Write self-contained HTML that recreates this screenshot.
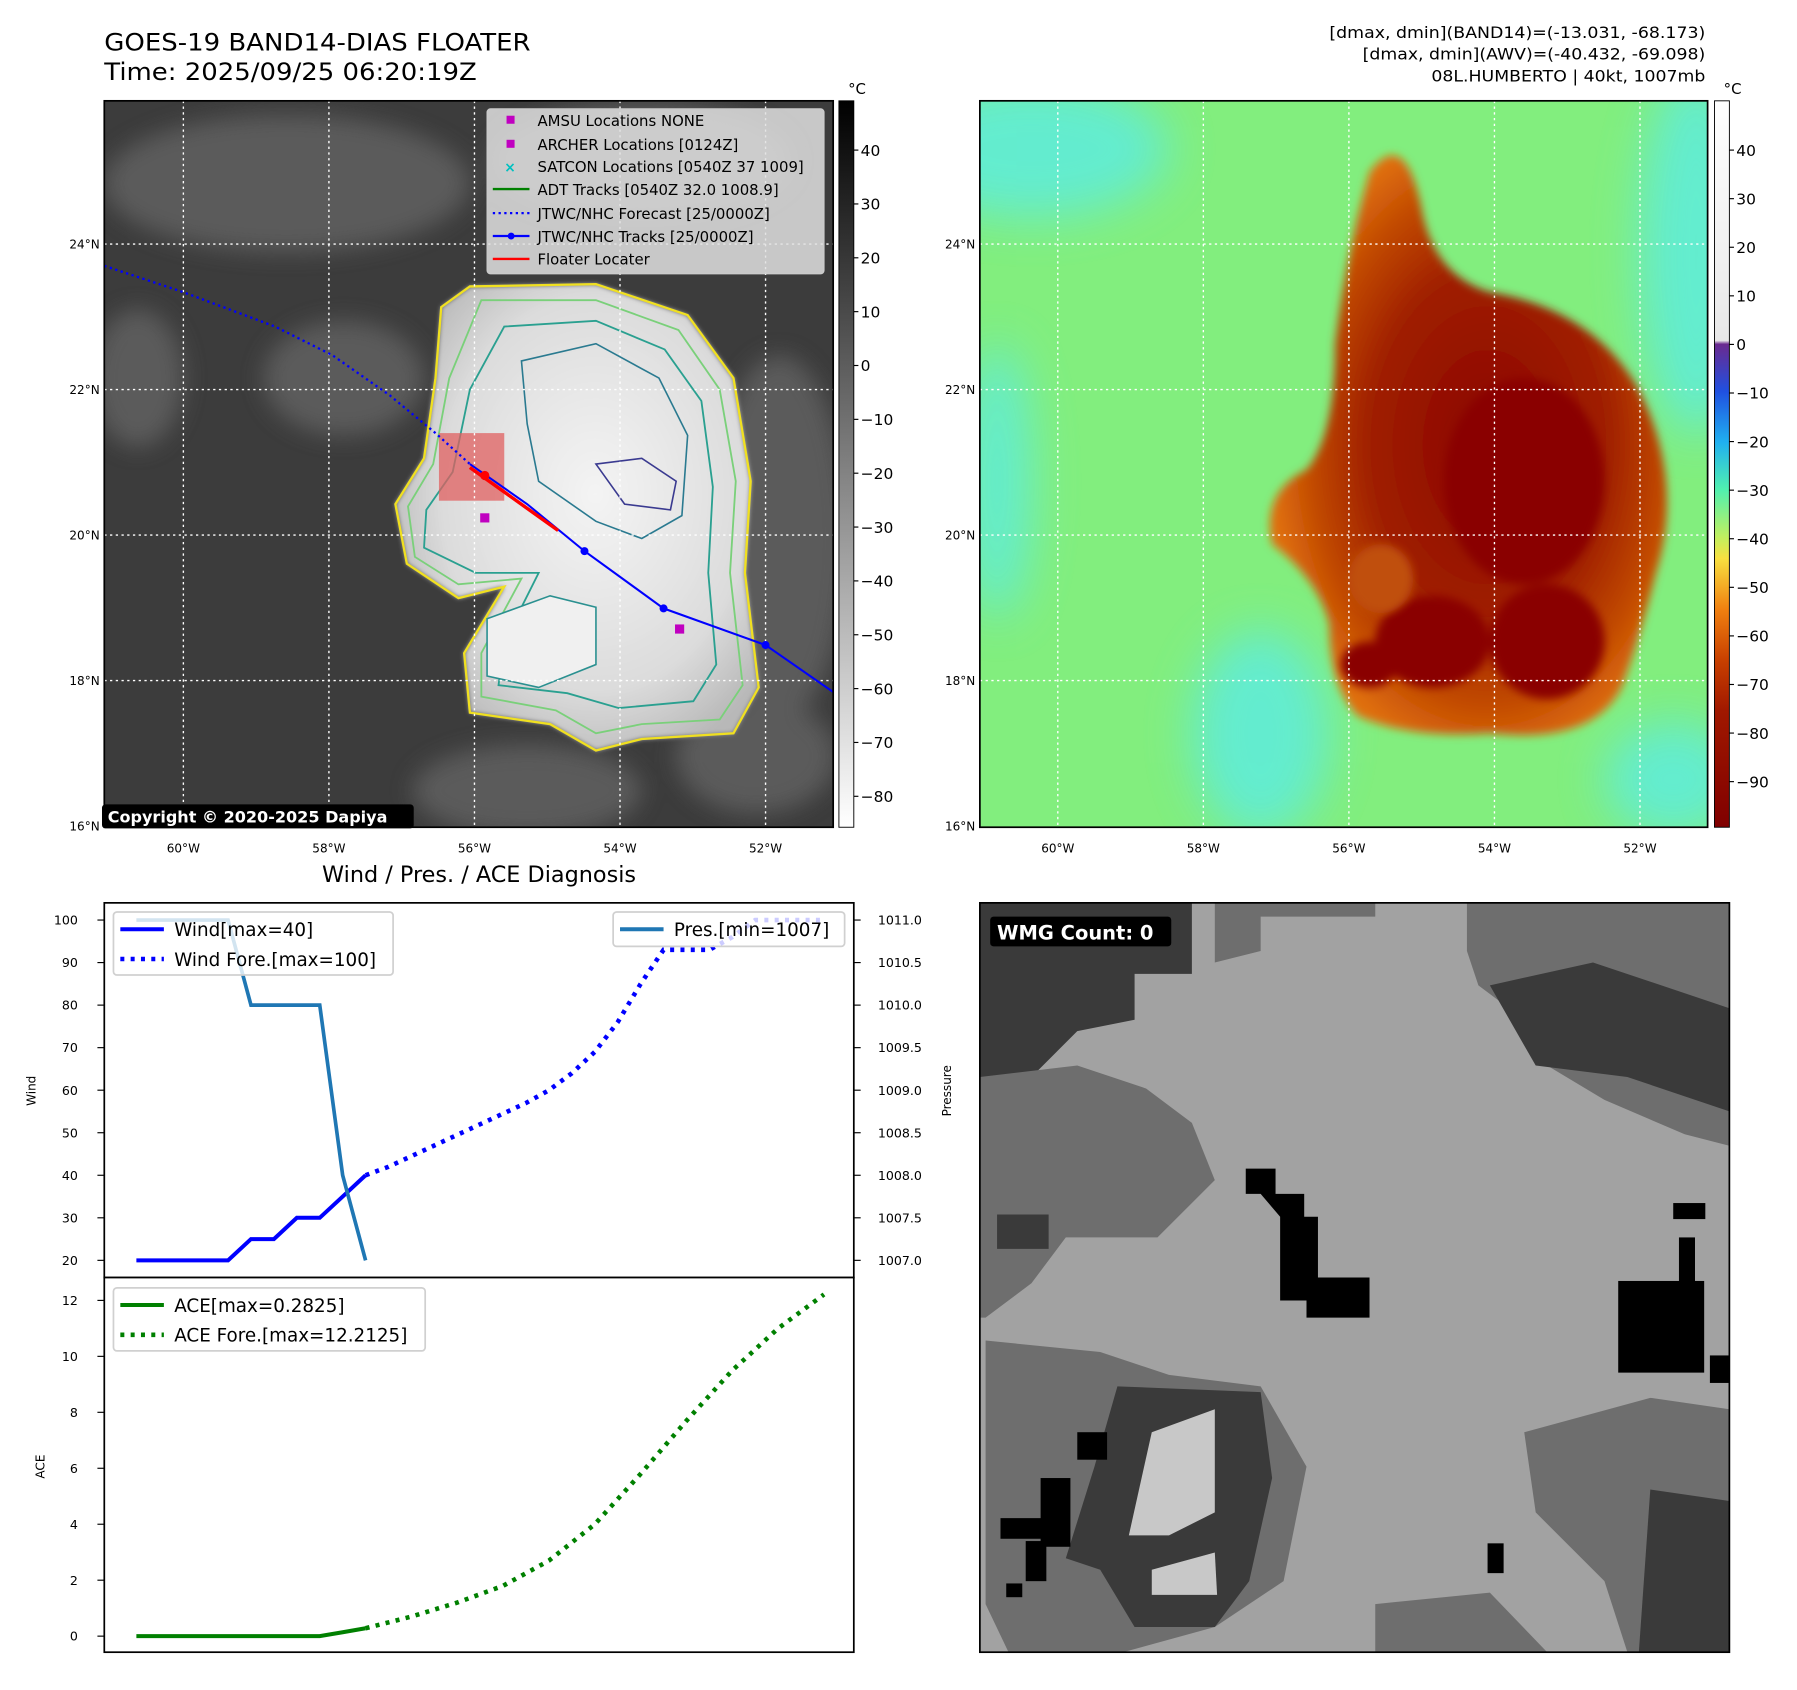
<!DOCTYPE html>
<html><head><meta charset="utf-8"><style>
html,body{margin:0;padding:0;background:#fff}
svg{display:block}
text{font-family:"DejaVu Sans","Liberation Sans",sans-serif}
</style></head><body>
<svg id="root" xmlns="http://www.w3.org/2000/svg" width="1797" height="1690" viewBox="0 0 1568 1475" preserveAspectRatio="none">
<defs>
<linearGradient id="cbL" x1="0" y1="0" x2="0" y2="1"><stop offset="0" stop-color="#000"/><stop offset="1" stop-color="#fff"/></linearGradient>
<linearGradient id="cbR" x1="0" y1="0" x2="0" y2="1">
<stop offset="0" stop-color="#ffffff"/><stop offset="0.33" stop-color="#e8e8e8"/>
<stop offset="0.335" stop-color="#6a2a90"/><stop offset="0.40" stop-color="#2050e0"/>
<stop offset="0.47" stop-color="#20b0f0"/><stop offset="0.535" stop-color="#50f0b0"/>
<stop offset="0.60" stop-color="#c0f060"/><stop offset="0.63" stop-color="#f8e040"/>
<stop offset="0.70" stop-color="#f08010"/><stop offset="0.77" stop-color="#c84000"/>
<stop offset="0.84" stop-color="#a01800"/><stop offset="1" stop-color="#800000"/></linearGradient>
<radialGradient id="stormL" cx="0.55" cy="0.45" r="0.6"><stop offset="0" stop-color="#f4f4f4"/><stop offset="0.7" stop-color="#dcdcdc"/><stop offset="1" stop-color="#b8b8b8"/></radialGradient>
<radialGradient id="stormR" cx="0.55" cy="0.5" r="0.55"><stop offset="0" stop-color="#8a0000"/><stop offset="0.55" stop-color="#a02000"/><stop offset="0.8" stop-color="#c04800"/><stop offset="1" stop-color="#e07010"/></radialGradient>
<filter id="blur2"><feGaussianBlur stdDeviation="2"/></filter>
<filter id="blur4"><feGaussianBlur stdDeviation="4"/></filter>
<filter id="blur10"><feGaussianBlur stdDeviation="10"/></filter>
<filter id="blur20"><feGaussianBlur stdDeviation="20"/></filter>
<clipPath id="clipL"><rect x="91" y="88" width="636" height="634"/></clipPath>
<clipPath id="clipR"><rect x="855" y="88" width="635" height="634"/></clipPath>
<clipPath id="clipB"><rect x="855" y="788" width="654" height="654"/></clipPath>
</defs>

<text x="91" y="44" font-size="21" textLength="372" lengthAdjust="spacingAndGlyphs">GOES-19 BAND14-DIAS FLOATER</text>
<text x="91" y="70" font-size="21" textLength="325" lengthAdjust="spacingAndGlyphs">Time: 2025/09/25 06:20:19Z</text>
<g font-size="14" text-anchor="end">
<text x="1488" y="33" textLength="328" lengthAdjust="spacingAndGlyphs">[dmax, dmin](BAND14)=(-13.031, -68.173)</text>
<text x="1488" y="52" textLength="299" lengthAdjust="spacingAndGlyphs">[dmax, dmin](AWV)=(-40.432, -69.098)</text>
<text x="1488" y="71" textLength="239" lengthAdjust="spacingAndGlyphs">08L.HUMBERTO | 40kt, 1007mb</text>
</g>

<!-- LEFT MAP -->
<g clip-path="url(#clipL)">
<rect x="91" y="88" width="636" height="634" fill="#3c3c3c"/>
<g filter="url(#blur10)" fill="#5e5e5e" opacity="0.9">
<ellipse cx="250" cy="160" rx="160" ry="60"/><ellipse cx="560" cy="140" rx="130" ry="50"/>
<ellipse cx="300" cy="330" rx="70" ry="50"/><ellipse cx="680" cy="470" rx="60" ry="160"/>
<ellipse cx="460" cy="690" rx="100" ry="40"/><ellipse cx="120" cy="330" rx="40" ry="60"/>
<ellipse cx="660" cy="660" rx="70" ry="50"/>
</g>
<path d="M410,250 L520,248 L600,275 L640,330 L655,420 L650,500 L662,600 L640,640 L560,645 L520,655 L480,632 L410,622 L405,570 L440,512 L400,522 L355,492 L345,440 L370,400 L380,330 L385,268 Z" fill="url(#stormL)" filter="url(#blur2)"/>
<path d="M410,250 L520,248 L600,275 L640,330 L655,420 L650,500 L662,600 L640,640 L560,645 L520,655 L480,632 L410,622 L405,570 L440,512 L400,522 L355,492 L345,440 L370,400 L380,330 L385,268 Z" fill="none" stroke="#f0e020" stroke-width="2"/>
<path d="M420,262 L520,262 L592,288 L628,340 L642,420 L637,500 L648,598 L628,628 L560,632 L520,640 L485,620 L420,608 L420,570 L455,505 L400,510 L362,486 L356,442 L378,405 L392,330 Z" fill="none" stroke="#7ad07a" stroke-width="1.6"/>
<path d="M440,285 L520,280 L580,305 L612,350 L622,425 L618,500 L625,580 L605,612 L540,618 L495,605 L435,598 L440,560 L470,500 L415,500 L370,478 L372,445 L395,412 L410,340 Z" fill="none" stroke="#2aa090" stroke-width="1.6"/>
<path d="M455,315 L520,300 L575,330 L600,380 L595,450 L560,470 L520,455 L470,420 L460,370 Z" fill="none" stroke="#2a7a90" stroke-width="1.4"/>
<path d="M520,405 L560,400 L590,420 L585,445 L545,440 Z" fill="none" stroke="#3a3a90" stroke-width="1.4"/>
<path d="M425,540 L480,520 L520,530 L520,580 L470,600 L425,590 Z" fill="#f0f0f0" stroke="#2a9090" stroke-width="1.4"/>
<rect x="383" y="378" width="57" height="59" fill="#e06060" opacity="0.75"/>
</g>
<g stroke="#fff" stroke-width="1.2" stroke-dasharray="2 3">
<line x1="160" y1="88" x2="160" y2="722"/><line x1="287" y1="88" x2="287" y2="722"/><line x1="414" y1="88" x2="414" y2="722"/><line x1="541" y1="88" x2="541" y2="722"/><line x1="668" y1="88" x2="668" y2="722"/>
<line x1="91" y1="213" x2="727" y2="213"/><line x1="91" y1="340" x2="727" y2="340"/><line x1="91" y1="467" x2="727" y2="467"/><line x1="91" y1="594" x2="727" y2="594"/>
</g>
<g clip-path="url(#clipL)">
<polyline points="91,232 160,255 240,285 290,310 340,345 380,378 410,405" fill="none" stroke="#0000ff" stroke-width="2" stroke-dasharray="2 3"/>
<polyline points="410,405 460,440 510,481 579,531 668,563 727,604" fill="none" stroke="#0000ff" stroke-width="1.8"/>
<g fill="#0000ff"><circle cx="510" cy="481" r="3.5"/><circle cx="579" cy="531" r="3.5"/><circle cx="668" cy="563" r="3.5"/></g>
<line x1="410" y1="408" x2="487" y2="463" stroke="#ff0000" stroke-width="3"/>
<circle cx="423" cy="415" r="4" fill="#ff0000"/>
<rect x="419" y="448" width="8" height="8" fill="#c000c0"/><rect x="589" y="545" width="8" height="8" fill="#c000c0"/>
</g>
<rect x="91" y="88" width="636" height="634" fill="none" stroke="#000" stroke-width="1.5"/>
<g>
<rect x="425" y="95" width="294" height="144" rx="3" fill="#e0e0e0" fill-opacity="0.85" stroke="#ccc"/>
<g font-size="13">
<rect x="442" y="101" width="7" height="7" fill="#c000c0"/><text x="469" y="110">AMSU Locations NONE</text>
<rect x="442" y="122" width="7" height="7" fill="#c000c0"/><text x="469" y="131">ARCHER Locations [0124Z]</text>
<text x="440" y="150" fill="#00c0c0" font-size="12" font-weight="bold">×</text><text x="469" y="150">SATCON Locations [0540Z 37 1009]</text>
<line x1="430" y1="165" x2="462" y2="165" stroke="#008000" stroke-width="2"/><text x="469" y="170">ADT Tracks [0540Z 32.0 1008.9]</text>
<line x1="430" y1="186" x2="462" y2="186" stroke="#0000ff" stroke-width="2" stroke-dasharray="2 3"/><text x="469" y="191">JTWC/NHC Forecast [25/0000Z]</text>
<line x1="430" y1="206" x2="462" y2="206" stroke="#0000ff" stroke-width="2"/><circle cx="446" cy="206" r="3" fill="#0000ff"/><text x="469" y="211">JTWC/NHC Tracks [25/0000Z]</text>
<line x1="430" y1="226" x2="462" y2="226" stroke="#ff0000" stroke-width="2"/><text x="469" y="231">Floater Locater</text>
</g></g>
<g><rect x="89" y="702" width="272" height="21" rx="3" fill="#000"/><text x="94" y="718" fill="#fff" font-size="14" font-weight="bold">Copyright © 2020-2025 Dapiya</text></g>
<g>
<rect x="732" y="88" width="13" height="634" fill="url(#cbL)" stroke="#000" stroke-width="0.8"/>
<text x="740" y="82" font-size="13">°C</text>
<g font-size="13.5" id="cbLlabels"></g>
</g>
<g font-size="10.5" id="lllabels"></g>

<!-- RIGHT MAP -->
<g clip-path="url(#clipR)">
<rect x="855" y="88" width="635" height="634" fill="#82ee7e"/>
<g filter="url(#blur20)" fill="#60ecd8" opacity="0.9"><ellipse cx="900" cy="130" rx="120" ry="60"/><ellipse cx="1480" cy="220" rx="50" ry="160"/><ellipse cx="1100" cy="640" rx="60" ry="90"/><ellipse cx="870" cy="420" rx="30" ry="120"/><ellipse cx="1460" cy="680" rx="60" ry="50"/></g>
<path d="M1195,150 Q1225,110 1240,180 Q1250,240 1300,255 Q1390,270 1430,340 Q1470,420 1445,500 Q1430,560 1415,600 Q1390,650 1300,640 Q1230,645 1185,625 Q1160,600 1160,545 Q1150,505 1110,475 Q1100,430 1140,410 Q1165,380 1165,300 Q1175,220 1195,150 Z" fill="url(#stormR)" filter="url(#blur4)"/>
<g fill="#8a0000" filter="url(#blur4)"><ellipse cx="1330" cy="420" rx="70" ry="90"/><ellipse cx="1250" cy="560" rx="50" ry="40"/><ellipse cx="1350" cy="560" rx="50" ry="50"/><ellipse cx="1195" cy="580" rx="25" ry="20"/></g>
<ellipse cx="1205" cy="505" rx="28" ry="30" fill="#c05010" filter="url(#blur4)"/>
</g>
<g stroke="#fff" stroke-width="1.2" stroke-dasharray="2 3">
<line x1="923" y1="88" x2="923" y2="722"/><line x1="1050" y1="88" x2="1050" y2="722"/><line x1="1177" y1="88" x2="1177" y2="722"/><line x1="1304" y1="88" x2="1304" y2="722"/><line x1="1431" y1="88" x2="1431" y2="722"/>
<line x1="855" y1="213" x2="1490" y2="213"/><line x1="855" y1="340" x2="1490" y2="340"/><line x1="855" y1="467" x2="1490" y2="467"/><line x1="855" y1="594" x2="1490" y2="594"/>
</g>
<rect x="855" y="88" width="635" height="634" fill="none" stroke="#000" stroke-width="1.5"/>
<g>
<rect x="1496" y="88" width="13" height="634" fill="url(#cbR)" stroke="#000" stroke-width="0.8"/>
<text x="1504" y="82" font-size="13">°C</text>
<g font-size="13.5" id="cbRlabels"></g>
</g>
<g font-size="10.5" id="rllabels"></g>

<!-- BOTTOM RIGHT -->
<g clip-path="url(#clipB)">
<rect x="855" y="788" width="654" height="654" fill="#a2a2a2"/>
<path d="M855,788 L1040,788 L1040,850 L990,850 L990,890 L940,900 L900,940 L870,960 L855,960 Z" fill="#3a3a3a"/>
<path d="M1060,788 L1200,788 L1200,800 L1100,800 L1100,830 L1060,840 Z" fill="#6e6e6e"/>
<path d="M1280,788 L1509,788 L1509,1000 L1470,990 L1400,960 L1350,930 L1330,890 L1290,860 L1280,830 Z" fill="#6e6e6e"/>
<path d="M1300,860 L1390,840 L1509,880 L1509,970 L1420,940 L1340,930 Z" fill="#3a3a3a"/>
<path d="M855,940 L940,930 L1000,950 L1040,980 L1060,1030 L1010,1080 L930,1080 L900,1120 L860,1150 L855,1150 Z" fill="#6e6e6e"/>
<path d="M870,1060 L915,1060 L915,1090 L870,1090 Z" fill="#3a3a3a"/>
<path d="M860,1170 L960,1180 L1020,1200 L1100,1210 L1140,1280 L1120,1380 L1060,1420 L980,1442 L880,1442 L860,1400 Z" fill="#6e6e6e"/>
<path d="M975,1210 L1100,1215 L1110,1290 L1090,1380 L1060,1420 L990,1420 L960,1370 L930,1360 L955,1280 Z" fill="#3a3a3a"/>
<path d="M1005,1250 L1060,1230 L1060,1320 L1020,1340 L985,1340 Z" fill="#c8c8c8"/>
<path d="M1005,1370 L1060,1355 L1062,1392 L1005,1392 Z" fill="#c8c8c8"/>
<path d="M1330,1250 L1440,1220 L1509,1230 L1509,1442 L1420,1442 L1400,1380 L1340,1320 Z" fill="#6e6e6e"/>
<path d="M1440,1300 L1509,1310 L1509,1442 L1430,1442 Z" fill="#3a3a3a"/>
<path d="M1200,1400 L1300,1390 L1350,1442 L1200,1442 Z" fill="#6e6e6e"/>
<g fill="#000"><path d="M1087,1020 L1113,1020 L1113,1042 L1138,1042 L1138,1062 L1150,1062 L1150,1115 L1195,1115 L1195,1150 L1140,1150 L1140,1135 L1117,1135 L1117,1062 L1100,1042 L1087,1042 Z"/>
<rect x="1412" y="1118" width="75" height="80"/><rect x="1465" y="1080" width="14" height="60"/><rect x="1460" y="1050" width="28" height="14"/>
<rect x="908" y="1290" width="26" height="60"/><rect x="873" y="1325" width="40" height="18"/><rect x="895" y="1345" width="18" height="35"/><rect x="878" y="1382" width="14" height="12"/>
<rect x="940" y="1250" width="26" height="24"/><rect x="1298" y="1347" width="14" height="26"/><rect x="1492" y="1183" width="17" height="24"/></g>
</g>
<rect x="855" y="788" width="654" height="654" fill="none" stroke="#000" stroke-width="1.5"/>
<g><rect x="864" y="800" width="158" height="26" rx="3" fill="#000"/><text x="870" y="820" fill="#fff" font-size="17" font-weight="bold">WMG Count: 0</text></g>

<text x="418" y="770" font-size="19.5" text-anchor="middle">Wind / Pres. / ACE Diagnosis</text>
<g id="chart"></g>
</svg>
<script>
const windIdx = [0,1,2,3,4,5,6,7,8,9,10];
const windVals = [20,20,20,20,20,25,25,30,30,35,40];
const windForeIdx = [10,11,12,13,14,15,16,17,18,19,20,21,22,23,24,25,26,27,28,29,30];
const windForeVals = [40,42,44.5,47,49.5,52,54.5,57,60,64,69,76,85,93,93,93,96,100,100,100,100];
const presIdx = [0,1,2,3,4,5,6,7,8,9,10];
const presVals = [1011,1011,1011,1011,1011,1010,1010,1010,1010,1008,1007];
const aceIdx = [0,1,2,3,4,5,6,7,8,9,10];
const aceVals = [0,0,0,0,0,0,0,0,0,0.14,0.2825];
const aceForeIdx = [10,12,14,16,18,20,22,24,26,28,30];
const aceForeVals = [0.2825,0.7,1.2,1.8,2.7,4.0,5.8,7.7,9.5,11.0,12.2125];
const windTicks = [20,30,40,50,60,70,80,90,100];
const presTicks = [1007.0,1007.5,1008.0,1008.5,1009.0,1009.5,1010.0,1010.5,1011.0];
const aceTicks = [0,2,4,6,8,10,12];
const cbLTicks = [40,30,20,10,0,-10,-20,-30,-40,-50,-60,-70,-80];
const cbRTicks = [40,30,20,10,0,-10,-20,-30,-40,-50,-60,-70,-80,-90];
const latLabels = ['24°N','22°N','20°N','18°N','16°N'];
const lonLabels = ['60°W','58°W','56°W','54°W','52°W'];

const NS='http://www.w3.org/2000/svg';
function mk(tag, attrs, parent){const e=document.createElementNS(NS,tag);for(const k in attrs)e.setAttribute(k,attrs[k]);parent.appendChild(e);return e;}
const X = i => 119 + 20*i;
const YW = v => 1100 - (v-20)*297/80;
const YP = v => 1100 - (v-1007)*297/4;
const YA = v => 1428 - v*24.42;
const chart=document.getElementById('chart');

let r1=mk('rect',{x:91,y:788,width:654,height:327,fill:'#fff',stroke:'#000','stroke-width':1.5},chart);


let r2=mk('rect',{x:91,y:1115,width:654,height:327,fill:'#fff',stroke:'#000','stroke-width':1.5},chart);



windTicks.forEach(t=>{const y=YW(t);mk('line',{x1:85,y1:y,x2:91,y2:y,stroke:'#000'},chart);
 const tx=mk('text',{x:68,y:y+4,'font-size':11,'text-anchor':'end'},chart);tx.textContent=t;
 
 });
presTicks.forEach(t=>{const y=YP(t);mk('line',{x1:745,y1:y,x2:751,y2:y,stroke:'#000'},chart);
 const tx=mk('text',{x:766,y:y+4,'font-size':11},chart);tx.textContent=t.toFixed(1);
 
 });
aceTicks.forEach(t=>{const y=YA(t);mk('line',{x1:85,y1:y,x2:91,y2:y,stroke:'#000'},chart);
 const tx=mk('text',{x:68,y:y+4,'font-size':11,'text-anchor':'end'},chart);tx.textContent=t;
 
 });
function ylab(txt,x,y,name){const t=mk('text',{x:x,y:y,'font-size':10.5,'text-anchor':'middle',transform:`rotate(-90 ${x} ${y})`},chart);t.textContent=txt;
 
 }
ylab('Wind',31,952,'wind-axis-title');ylab('Pressure',830,952,'pressure-axis-title');ylab('ACE',39,1280,'ace-axis-title');

function line(idx,vals,yf,attrs,name){const pts=idx.map((i,k)=>X(i)+','+yf(vals[k])).join(' ');
 const p=mk('polyline',Object.assign({points:pts,fill:'none'},attrs),chart);
 
 return p;}
line(windForeIdx,windForeVals,YW,{stroke:'#0000ff','stroke-width':4,'stroke-dasharray':'3.5 5.5'},'wind-forecast-line');
line(windIdx,windVals,YW,{stroke:'#0000ff','stroke-width':3.5},'wind-line');
line(presIdx,presVals,YP,{stroke:'#1f77b4','stroke-width':3.2},'pressure-line');
line(aceForeIdx,aceForeVals,YA,{stroke:'#008000','stroke-width':4,'stroke-dasharray':'3.5 5.5'},'ace-forecast-line');
line(aceIdx,aceVals,YA,{stroke:'#008000','stroke-width':3.5},'ace-line');

function legend(x,y,w,h,items,name){const g=mk('g',{},chart);
 
 
 mk('rect',{x:x,y:y,width:w,height:h,rx:3,fill:'#fff','fill-opacity':0.8,stroke:'#d0d0d0','stroke-width':1.5},g);
 items.forEach((it,k)=>{const yy=y+15+k*26;
  mk('line',Object.assign({x1:x+6,y1:yy,x2:x+44,y2:yy},it.s),g);
  const t=mk('text',{x:x+53,y:yy+6,'font-size':16},g);t.textContent=it.t;});}
legend(99,796,244,55,[{t:'Wind[max=40]',s:{stroke:'#0000ff','stroke-width':3.5}},{t:'Wind Fore.[max=100]',s:{stroke:'#0000ff','stroke-width':4,'stroke-dasharray':'3.5 5.5'}}],'wind-legend');
legend(535,796,202,30,[{t:'Pres.[min=1007]',s:{stroke:'#1f77b4','stroke-width':3.5}}],'pressure-legend');
legend(99,1124,272,55,[{t:'ACE[max=0.2825]',s:{stroke:'#008000','stroke-width':3.5}},{t:'ACE Fore.[max=12.2125]',s:{stroke:'#008000','stroke-width':4,'stroke-dasharray':'3.5 5.5'}}],'ace-legend');

const cL=document.getElementById('cbLlabels');
cbLTicks.forEach((t,k)=>{const y=136+47*k;mk('line',{x1:745,y1:y-5,x2:749,y2:y-5,stroke:'#000'},cL);
 const tx=mk('text',{x:751,y:y},cL);tx.textContent=t<0?'\u2212'+(-t):t;});
const cR=document.getElementById('cbRlabels');
cbRTicks.forEach((t,k)=>{const y=136+42.4*k;mk('line',{x1:1509,y1:y-5,x2:1513,y2:y-5,stroke:'#000'},cR);
 const tx=mk('text',{x:1515,y:y},cR);tx.textContent=t<0?'\u2212'+(-t):t;});
function maplabels(id,x0,lon0){const g=document.getElementById(id);
 latLabels.forEach((l,k)=>{const t=mk('text',{x:x0-4,y:217+127*k,'text-anchor':'end'},g);t.textContent=l;});
 lonLabels.forEach((l,k)=>{const t=mk('text',{x:lon0+127*k,y:744,'text-anchor':'middle'},g);t.textContent=l;});}
maplabels('lllabels',91,160);maplabels('rllabels',855,923);
</script>
</body></html>
